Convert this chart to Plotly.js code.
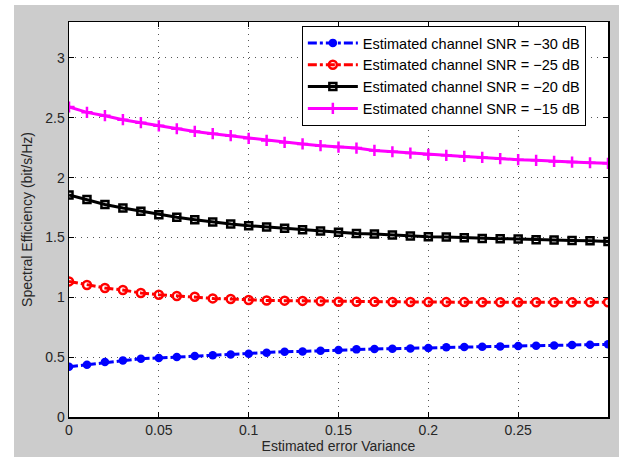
<!DOCTYPE html>
<html>
<head>
<meta charset="utf-8">
<script src="https://cdn.plot.ly/plotly-3.0.1.min.js"></script>
<style>
  html, body { margin: 0; padding: 0; background: #ffffff; width: 626px; height: 457px; overflow: hidden; }
  #chart { position: absolute; left: 14px; top: 5px; width: 605px; height: 452px; }
</style>
</head>
<body>
<div id="chart"></div>
<script>
const errorVariance = [0.00, 0.01, 0.02, 0.03, 0.04, 0.05, 0.06, 0.07, 0.08, 0.09,
                       0.10, 0.11, 0.12, 0.13, 0.14, 0.15, 0.16, 0.17, 0.18, 0.19,
                       0.20, 0.21, 0.22, 0.23, 0.24, 0.25, 0.26, 0.27, 0.28, 0.29, 0.30];

const se_m30 = [0.420, 0.437, 0.459, 0.473, 0.487, 0.493, 0.501, 0.510, 0.515, 0.523,
                0.529, 0.537, 0.546, 0.548, 0.554, 0.560, 0.565, 0.568, 0.571, 0.573,
                0.576, 0.582, 0.585, 0.587, 0.590, 0.593, 0.596, 0.598, 0.601, 0.604, 0.607];

const se_m25 = [1.133, 1.103, 1.078, 1.061, 1.036, 1.022, 1.011, 1.005, 0.991, 0.986,
                0.977, 0.974, 0.972, 0.970, 0.966, 0.963, 0.962, 0.962, 0.961, 0.961,
                0.960, 0.960, 0.960, 0.959, 0.959, 0.959, 0.958, 0.958, 0.958, 0.958, 0.958];

const se_m20 = [1.855, 1.818, 1.776, 1.746, 1.718, 1.690, 1.668, 1.648, 1.629, 1.612,
                1.598, 1.587, 1.576, 1.565, 1.554, 1.544, 1.534, 1.529, 1.520, 1.512,
                1.506, 1.504, 1.498, 1.492, 1.490, 1.487, 1.481, 1.479, 1.475, 1.473, 1.467];

const se_m15 = [2.590, 2.545, 2.517, 2.484, 2.459, 2.433, 2.408, 2.386, 2.367, 2.350,
                2.328, 2.311, 2.294, 2.281, 2.267, 2.255, 2.247, 2.227, 2.216, 2.205,
                2.194, 2.186, 2.177, 2.169, 2.158, 2.150, 2.144, 2.135, 2.130, 2.124, 2.119];

const seriesNames = [
  'Estimated channel SNR = \u221230 dB',
  'Estimated channel SNR = \u221225 dB',
  'Estimated channel SNR = \u221220 dB',
  'Estimated channel SNR = \u221215 dB'
];

const xTickVals = [0, 0.05, 0.1, 0.15, 0.2, 0.25];
const xTickText = ['0', '0.05', '0.1', '0.15', '0.2', '0.25'];
const yTickVals = [0, 0.5, 1, 1.5, 2, 2.5, 3];
const yTickText = ['0', '0.5', '1', '1.5', '2', '2.5', '3'];

const FONT = 'Liberation Sans, Arial, Helvetica, sans-serif';

const traces = [
  {
    x: errorVariance, y: se_m30, name: seriesNames[0], type: 'scatter', mode: 'lines+markers',
    line: { color: '#0000ff', width: 3, dash: 'dashdot' },
    marker: { symbol: 'circle', size: 8.5, color: '#0000ff' }
  },
  {
    x: errorVariance, y: se_m25, name: seriesNames[1], type: 'scatter', mode: 'lines+markers',
    line: { color: '#ff0000', width: 3, dash: 'dashdot' },
    marker: { symbol: 'circle-open', size: 8, color: '#ff0000', line: { width: 2.5, color: '#ff0000' } }
  },
  {
    x: errorVariance, y: se_m20, name: seriesNames[2], type: 'scatter', mode: 'lines+markers',
    line: { color: '#000000', width: 3 },
    marker: { symbol: 'square-open', size: 7, color: '#000000', line: { width: 2.5, color: '#000000' } }
  },
  {
    x: errorVariance, y: se_m15, name: seriesNames[3], type: 'scatter', mode: 'lines+markers',
    line: { color: '#ff00ff', width: 3 },
    marker: { symbol: 'cross-thin-open', size: 8, color: '#ff00ff', line: { width: 2.5, color: '#ff00ff' } }
  }
];

const axisCommon = {
  showline: true, linecolor: '#000000', linewidth: 1.5, mirror: 'ticks',
  ticks: 'inside', ticklen: 5, tickwidth: 1, tickcolor: '#000000',
  showgrid: true, gridcolor: '#555555', gridwidth: 1, griddash: '1px,5px',
  zeroline: false,
  tickfont: { family: FONT, size: 14, color: '#262626' },
  tickmode: 'array'
};

const layout = {
  width: 605, height: 452,
  paper_bgcolor: '#cccccc', plot_bgcolor: '#ffffff',
  margin: { l: 55, r: 11, t: 17, b: 40 },
  font: { family: FONT, size: 14, color: '#262626' },
  showlegend: true,
  legend: {
    x: 0.432, y: 0.99, xanchor: 'left', yanchor: 'top',
    bgcolor: '#ffffff', bordercolor: '#000000', borderwidth: 1,
    font: { family: FONT, size: 14.5, color: '#000000' },
    itemwidth: 50, tracegroupgap: 0
  },
  xaxis: Object.assign({}, axisCommon, {
    range: [0, 0.3], tickvals: xTickVals, ticktext: xTickText,
    title: { text: 'Estimated error Variance', font: { family: FONT, size: 14, color: '#262626' }, standoff: 4 }
  }),
  yaxis: Object.assign({}, axisCommon, {
    range: [0, 3.3], tickvals: yTickVals, ticktext: yTickText,
    title: { text: 'Spectral Efficiency (bit/s/Hz)', font: { family: FONT, size: 14, color: '#262626' }, standoff: 9 }
  })
};

Plotly.newPlot('chart', traces, layout, { displayModeBar: false, staticPlot: true });
</script>
</body>
</html>
